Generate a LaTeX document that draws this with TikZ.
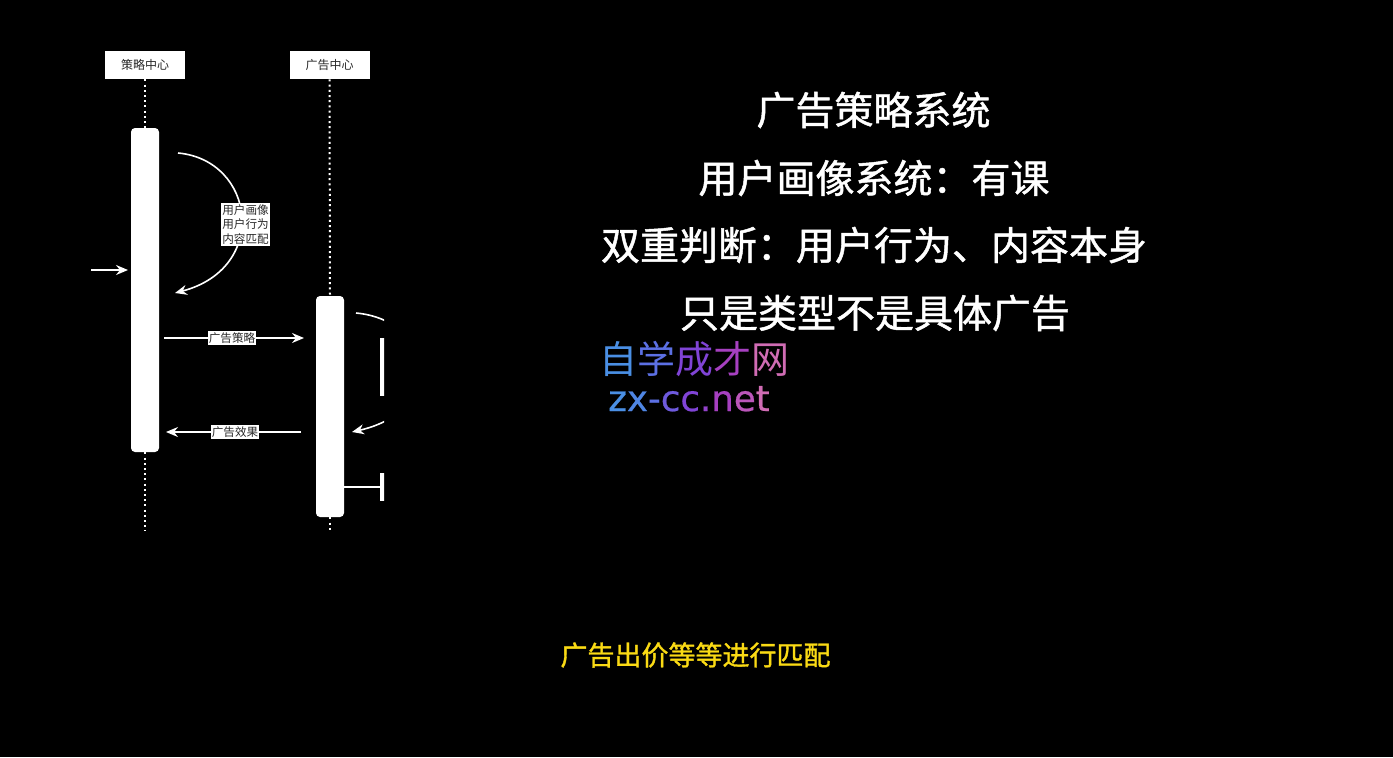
\documentclass[tikz,border=0pt]{standalone}
\usepackage{fontspec}
\newfontfamily\cjk{Noto Sans CJK SC}
\newfontfamily\cjkmed[FakeBold=1.2]{Noto Sans CJK SC}
\newfontfamily\wmlat[FakeBold=0.6]{DejaVu Sans}
\usetikzlibrary{arrows.meta}
\definecolor{wmA}{RGB}{74,143,228}
\definecolor{wmB}{RGB}{92,112,228}
\definecolor{wmC}{RGB}{128,68,214}
\definecolor{wmD}{RGB}{166,64,192}
\definecolor{wmE}{RGB}{208,108,180}
\definecolor{subyellow}{RGB}{250,218,20}
\definecolor{lbltext}{RGB}{40,40,40}
\tikzset{
  hdr/.style={fill=white, minimum width=40pt, minimum height=14pt, inner sep=0pt,
    font=\cjk\fontsize{6}{7}\selectfont, text=lbltext},
  actbar/.style={fill=white, rounded corners=2pt, minimum width=14pt, inner sep=0pt},
  lifeline/.style={white, line width=1pt, dash pattern=on 1pt off 1.6pt},
  msg/.style={white, line width=0.8pt, -{Stealth[length=6pt,width=5pt,inset=2pt]}},
  lbl/.style={fill=white, text=lbltext, inner sep=0.6pt,
    font=\cjk\fontsize{5.8}{7.4}\selectfont, align=left},
  title/.style={text=white, font=\cjkmed\fontsize{19.5}{22}\selectfont},
}
\begin{document}
\begin{tikzpicture}[x=0.5pt,y=-0.5pt]
\fill[black] (0,0) rectangle (1393,757);
\path[use as bounding box] (0,0) rectangle (1393,757);

% headers
\node[hdr] (h1) at (145,65) {策略中心};
\node[hdr] (h2) at (329.5,65) {广告中心};

% activation bars
\node[actbar, minimum height=162pt] (a1) at (145,290) {};
\node[actbar, minimum height=110.5pt] (a2) at (330,406.5) {};

% lifelines
\coordinate (e1) at (145,531);
\coordinate (e2) at (330,531);
\draw[lifeline] (h1.south) -- (a1.north);
\draw[lifeline] (a1.south) -- (e1);
\draw[lifeline] (h2.south) -- (a2.north);
\draw[lifeline] (a2.south) -- (e2);

% incoming arrow
\coordinate (in) at (91,270);
\coordinate (inend) at (128,270);
\draw[msg] (in) -- (inend);

% self arc on 策略中心
\coordinate (s1) at (178,153);
\coordinate (t1) at (175,293);
\draw[msg] (s1) .. controls (255,160) and (270,268) .. (t1);
\node[lbl] (l1) at (245.5,224.5) {用户画像\\用户行为\\内容匹配};

% messages
\coordinate (m1s) at (164,338);
\coordinate (m1e) at (304,338);
\draw[msg] (m1s) -- (m1e);
\node[lbl] (l2) at (232,338) {广告策略};
\coordinate (m2s) at (301,432);
\coordinate (m2e) at (166,432);
\draw[msg] (m2s) -- (m2e);
\node[lbl] (l3) at (235,432) {广告效果};

% clipped part on 广告中心
\begin{scope}
  \clip (0,0) rectangle (384,757);
  \coordinate (s2) at (356,313);
  \coordinate (t2) at (352,432);
  \draw[msg] (s2) .. controls (433,320) and (448,410) .. (t2);
  \node[lbl, anchor=north west, minimum width=30pt, minimum height=29pt, text depth=20pt] (l4) at (379.5,338) {广};
  \coordinate (m3e) at (380,487);
  \draw[white, line width=0.8pt] (a2.east |- m3e) -- (m3e);
  \node[lbl, anchor=west, minimum width=30pt] (l5) at (379.5,487) {广\\计};
\end{scope}

% right-hand titles
\node[title] (t1a) at (873.5,110) {广告策略系统};
\node[title] (t2a) at (874,178) {用户画像系统：有课};
\node[title] (t3a) at (874,245) {双重判断：用户行为、内容本身};
\node[title] (t4a) at (875,313) {只是类型不是具体广告};

% watermark
\node[font=\cjk\fontsize{19}{22}\selectfont, inner sep=0pt] (wm1) at (694,359)
  {\textcolor{wmA}{自}\textcolor{wmB}{学}\textcolor{wmC}{成}\textcolor{wmD}{才}\textcolor{wmE}{网}};
\node[font=\wmlat\fontsize{17.8}{20}\selectfont, inner sep=0pt, anchor=base] (wm2) at (689,411)
  {\textcolor{wmA}{z}\textcolor{wmA!70!wmB}{x}\textcolor{wmB}{-}\textcolor{wmB!50!wmC}{c}\textcolor{wmC}{c}\textcolor{wmC!50!wmD}{.}\textcolor{wmD}{n}\textcolor{wmD!50!wmE}{e}\textcolor{wmE}{t}};

% subtitle
\node[text=subyellow, font=\cjkmed\fontsize{13.5}{16}\selectfont] (sub) at (695.5,655) {广告出价等等进行匹配};
\end{tikzpicture}
\end{document}
